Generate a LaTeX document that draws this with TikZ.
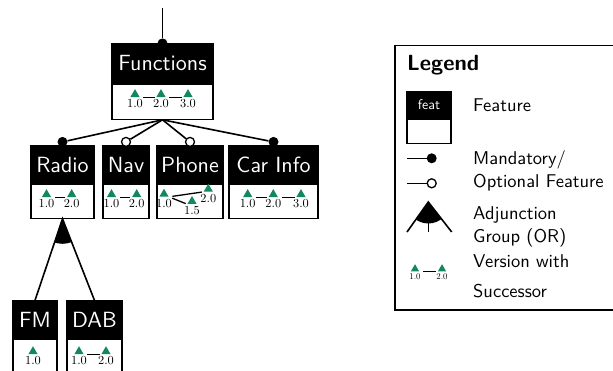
\documentclass[tikz,border=0pt]{standalone}
\usepackage{fontspec}
\setsansfont{lmsans10-regular.otf}[BoldFont=lmsans10-bold.otf]
\newfontfamily\vfont{lmroman10-regular.otf}
\usetikzlibrary{shapes.geometric}
\definecolor{vgreen}{RGB}{18,136,92}
\tikzset{
  fhead/.style={fill=black, draw=black, line width=1.2pt, text=white, inner sep=0pt, font=\sffamily\fontsize{22}{24}\selectfont},
  fbody/.style={draw=black, fill=white, line width=1.2pt, inner sep=0pt},
  conn/.style={line width=1.6pt},
  mand/.style={circle, fill=black, inner sep=0pt, minimum size=10pt},
  opt/.style={circle, draw=black, fill=white, line width=1.3pt, inner sep=0pt, minimum size=9pt},
  ver/.style={regular polygon, regular polygon sides=3, fill=vgreen, inner sep=0pt, minimum size=10.6pt},
  vlab/.style={font=\vfont\fontsize{12.3}{13}\selectfont, inner sep=0.5pt},
  vlabS/.style={font=\vfont\fontsize{8.8}{9}\selectfont, inner sep=0.5pt},
  vline/.style={line width=1.3pt, shorten <=3.5pt, shorten >=1.5pt},
  legtext/.style={font=\sffamily\fontsize{18.5}{23}\selectfont, align=left, inner sep=0pt, anchor=base west},
  every label/.style={label distance=1.5pt}
}
\begin{document}
\begin{tikzpicture}[x=1pt, y=-1pt]
\useasboundingbox (0,0) rectangle (613,370);

% ---------- Feature boxes ----------
\node[fhead, minimum width=101pt, minimum height=39pt] (funH) at (162.5,63.5) {Functions};
\node[fbody, minimum width=101pt, minimum height=35pt, anchor=north] (funB) at (funH.south) {};

\node[fhead, minimum width=63pt, minimum height=37pt] (radH) at (62.5,164.5) {Radio};
\node[fbody, minimum width=63pt, minimum height=34pt, anchor=north] (radB) at (radH.south) {};

\node[fhead, minimum width=46pt, minimum height=37pt] (navH) at (126,164.5) {Nav};
\node[fbody, minimum width=46pt, minimum height=34pt, anchor=north] (navB) at (navH.south) {};

\node[fhead, minimum width=66pt, minimum height=37pt] (phoH) at (190,164.5) {Phone};
\node[fbody, minimum width=66pt, minimum height=34pt, anchor=north] (phoB) at (phoH.south) {};

\node[fhead, minimum width=89pt, minimum height=37pt] (carH) at (273.5,164.5) {Car Info};
\node[fbody, minimum width=89pt, minimum height=34pt, anchor=north] (carB) at (carH.south) {};

\node[fhead, minimum width=44pt, minimum height=37pt] (fmH) at (35,319.5) {FM};
\node[fbody, minimum width=44pt, minimum height=36pt, anchor=north] (fmB) at (fmH.south) {};

\node[fhead, minimum width=55pt, minimum height=37pt] (dabH) at (94.5,319.5) {DAB};
\node[fbody, minimum width=55pt, minimum height=36pt, anchor=north] (dabB) at (dabH.south) {};

% ---------- circles ----------
\node[mand] (cFun) at (funH.north) {};
\node[mand] (cRad) at ([yshift=3.5pt]radH.north) {};
\node[opt]  (cNav) at ([yshift=3.5pt]navH.north) {};
\node[opt]  (cPho) at ([yshift=3.5pt]phoH.north) {};
\node[mand] (cCar) at ([yshift=3.5pt]carH.north) {};

% ---------- connectors ----------
\coordinate (top) at (162.5,8);
\draw[conn] (top) -- (cFun);
\draw[conn] (funB.south) -- (cRad);
\draw[conn] (funB.south) -- (cNav);
\draw[conn] (funB.south) -- (cPho);
\draw[conn] (funB.south) -- (cCar);

% adjunction group under Radio
\begin{scope}
  \clip (radB.south) circle (25pt);
  \fill (radB.south) -- (fmH.north) -- (dabH.north) -- cycle;
\end{scope}
\draw[conn] (fmH.north) -- (radB.south) -- (dabH.north);

% ---------- versions ----------
\node[ver, label={[vlab]below:1.0}] (f1) at (135,94.4) {};
\node[ver, label={[vlab]below:2.0}] (f2) at (161,94.4) {};
\node[ver, label={[vlab]below:3.0}] (f3) at (188,94.4) {};
\draw[vline] (f1.corner 3) -- (f2.corner 2);
\draw[vline] (f2.corner 3) -- (f3.corner 2);

\node[ver, label={[vlab]below:1.0}] (r1) at (46.5,194.4) {};
\node[ver, label={[vlab]below:2.0}] (r2) at (71.7,194.4) {};
\draw[vline] (r1.corner 3) -- (r2.corner 2);

\node[ver, label={[vlab]below:1.0}] (n1) at (111.5,194.4) {};
\node[ver, label={[vlab]below:2.0}] (n2) at (136.7,194.4) {};
\draw[vline] (n1.corner 3) -- (n2.corner 2);

\node[ver, label={[vlab]below:1.0}] (p1) at (164,194) {};
\node[ver, label={[vlab]below:2.0}] (p2) at (208.3,189) {};
\node[ver, label={[vlab]below:1.5}] (p3) at (192,201.3) {};
\draw[vline] (p1.corner 3) -- (p2.corner 2);
\draw[vline] (p1.corner 3) -- (p3.corner 2);

\node[ver, label={[vlab]below:1.0}] (c1) at (247.7,194.4) {};
\node[ver, label={[vlab]below:2.0}] (c2) at (273.3,194.4) {};
\node[ver, label={[vlab]below:3.0}] (c3) at (301,194.4) {};
\draw[vline] (c1.corner 3) -- (c2.corner 2);
\draw[vline] (c2.corner 3) -- (c3.corner 2);

\node[ver, label={[vlab]below:1.0}] (m1) at (33,351.5) {};

\node[ver, label={[vlab]below:1.0}] (d1) at (79,351.5) {};
\node[ver, label={[vlab]below:2.0}] (d2) at (106,351.5) {};
\draw[vline] (d1.corner 3) -- (d2.corner 2);

% ---------- legend ----------
\node[draw=black, line width=1.3pt, minimum width=224pt, minimum height=264.5pt, inner sep=0pt] (legend) at (507,177.75) {};
\node[font=\sffamily\bfseries\fontsize{22}{24}\selectfont, inner sep=0pt, anchor=base west] (legT) at (407,70) {Legend};

\node[fhead, minimum width=44pt, minimum height=26pt, font=\sffamily\fontsize{14}{15}\selectfont] (lfH) at (429,105) {feat};
\node[fbody, minimum width=44pt, minimum height=24pt, anchor=north] (lfB) at (lfH.south) {};
\node[legtext] (legFeat) at (473,111.7) {Feature};

\coordinate (lm0) at (407,158.3);
\node[mand] (lm) at (431.7,158.3) {};
\draw[conn] (lm0) -- (lm);
\coordinate (lo0) at (407,183.3);
\node[opt] (lo) at (431.7,183.3) {};
\draw[conn] (lo0) -- (lo);
\node[legtext] (legMO) at (473,187.5) {Mandatory/\\Optional Feature};

\coordinate (la) at (428.3,202);
\coordinate (laL) at (407,232);
\coordinate (laR) at (451.7,232);
\coordinate (laM) at (428.3,232);
\begin{scope}
  \clip (la) circle (21.5pt);
  \fill (la) -- (laL) -- (laR) -- cycle;
\end{scope}
\draw[conn] (laL) -- (la) -- (laR);
\draw[conn] (la) -- (laM);
\node[legtext] (legAG) at (473,242.7) {Adjunction\\Group (OR)};

\node[ver, minimum size=9.6pt, label={[vlabS, label distance=1pt]below:1.0}] (lv1) at (415,269) {};
\node[ver, minimum size=9.6pt, label={[vlabS, label distance=1pt]below:2.0}] (lv2) at (442,269) {};
\draw[vline] (lv1.corner 3) -- (lv2.corner 2);
\node[legtext, font=\sffamily\fontsize{18.5}{30}\selectfont] (legVS) at (473,297.7) {Version with\\Successor};
\end{tikzpicture}
\end{document}
